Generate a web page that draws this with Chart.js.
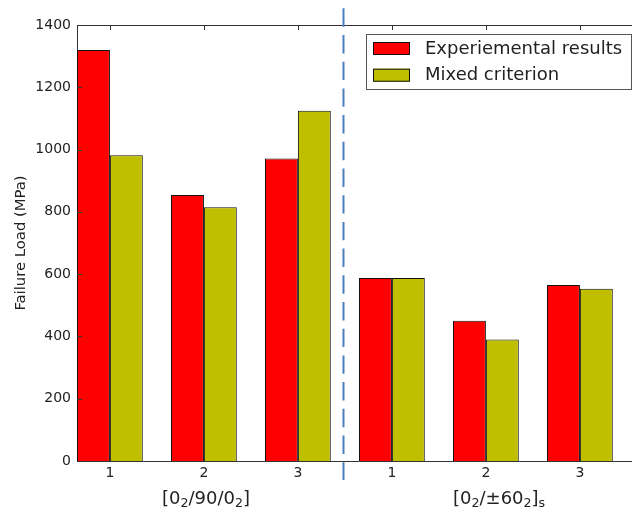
<!DOCTYPE html>
<html><head><meta charset="utf-8">
<script src="https://cdn.jsdelivr.net/npm/chart.js@4.4.1/dist/chart.umd.min.js"></script>
<style>
html,body{margin:0;padding:0;overflow:hidden;background:#fff;width:632px;height:510px}
#wrap{position:absolute;left:0;top:0;width:641px;height:510px}
</style>
</head><body><div id="wrap"><canvas id="c" width="641" height="510"></canvas></div>
<script>
// ---- data ----
const categories = ['1', '2', '3', '1', '2', '3'];
const experimental = [1320, 854, 971, 588, 450, 565];
const mixed = [982, 815, 1125, 588, 390, 553];
const seriesNames = ['Experiemental results', 'Mixed criterion'];
const groupLabels = ['[0_2/90/0_2]', '[0_2/\u00b160_2]_s'];
const yTickValues = [0, 200, 400, 600, 800, 1000, 1200, 1400];
const yTitle = 'Failure Load (MPa)';

const FONT = "'DejaVu Sans', sans-serif";
const colors = ['#ff0000', '#bfbf00'];
const SPINE = '#333';

function drawRich(ctx, str, x, y, size) {
  // '_c' marks a single subscript character
  const parts = [];
  for (let i = 0; i < str.length; i++) {
    if (str[i] === '_' && i + 1 < str.length) { parts.push({t: str[i+1], sub: true}); i++; }
    else {
      if (parts.length && !parts[parts.length-1].sub) parts[parts.length-1].t += str[i];
      else parts.push({t: str[i], sub: false});
    }
  }
  ctx.textBaseline = 'alphabetic';
  ctx.textAlign = 'left';
  let cx = x;
  for (const p of parts) {
    const s = p.sub ? size * 0.7 : size;
    ctx.font = s + 'px ' + FONT;
    ctx.fillText(p.t, cx, p.sub ? y + 3 : y);
    cx += ctx.measureText(p.t).width;
  }
}

const decor = {
  id: 'decor',
  afterDraw(chart) {
    const ctx = chart.ctx, a = chart.chartArea;
    const xs = chart.scales.x, ys = chart.scales.y;
    ctx.save();
    // top & right spines
    ctx.strokeStyle = SPINE; ctx.lineWidth = 1;
    ctx.beginPath();
    ctx.moveTo(a.left, a.top + 0.5); ctx.lineTo(a.right, a.top + 0.5);
    ctx.moveTo(a.right - 0.5, a.top); ctx.lineTo(a.right - 0.5, a.bottom);
    ctx.stroke();
    // inside tick marks
    ctx.beginPath();
    yTickValues.forEach(v => {
      const py = Math.round(ys.getPixelForValue(v)) + 0.5;
      ctx.moveTo(a.left, py); ctx.lineTo(a.left + 5, py);
      ctx.moveTo(a.right, py); ctx.lineTo(a.right - 5, py);
    });
    categories.forEach((c, i) => {
      const px = Math.round(xs.getPixelForValue(i)) + 0.5;
      ctx.moveTo(px, a.bottom); ctx.lineTo(px, a.bottom - 5);
      ctx.moveTo(px, a.top); ctx.lineTo(px, a.top + 5);
    });
    ctx.stroke();
    // dashed separator
    const sx = xs.getPixelForValue(2.485);
    ctx.strokeStyle = '#4a7ebf'; ctx.lineWidth = 2;
    ctx.setLineDash([18.4, 8.3]);
    ctx.beginPath(); ctx.moveTo(sx, 8.3); ctx.lineTo(sx, 480); ctx.stroke();
    ctx.setLineDash([]);
    // legend
    ctx.fillStyle = '#fff';
    ctx.fillRect(366, 34, 265, 55);
    ctx.strokeStyle = '#555'; ctx.lineWidth = 1;
    ctx.strokeRect(366.5, 34.5, 265, 55);
    seriesNames.forEach((n, i) => {
      const y0 = 42 + i * 26.7;
      ctx.fillStyle = colors[i];
      ctx.fillRect(373, y0, 37, 13);
      ctx.strokeStyle = '#111';
      ctx.strokeRect(373.5, y0 + 0.5, 36, 12);
      ctx.fillStyle = '#222';
      ctx.font = '18px ' + FONT;
      ctx.textBaseline = 'middle'; ctx.textAlign = 'left';
      ctx.fillText(n, 425, y0 + 7);
    });
    // y title
    ctx.save();
    ctx.translate(21, (a.top + a.bottom) / 2);
    ctx.rotate(-Math.PI / 2);
    ctx.fillStyle = '#222';
    ctx.font = '14.8px ' + FONT;
    ctx.textAlign = 'center'; ctx.textBaseline = 'middle';
    ctx.fillText(yTitle, 0, 0);
    ctx.restore();
    // group labels
    ctx.fillStyle = '#222';
    drawRich(ctx, groupLabels[0], 162, 504, 18);
    drawRich(ctx, groupLabels[1], 453, 504, 18);
    ctx.restore();
  }
};

new Chart(document.getElementById('c'), {
  type: 'bar',
  data: {
    datasets: [
      { label: seriesNames[0], data: experimental.map((v, i) => ({x: i, y: v})),
        backgroundColor: colors[0], borderColor: '#111', borderWidth: 1, inflateAmount: 0 },
      { label: seriesNames[1], data: mixed.map((v, i) => ({x: i, y: v})),
        backgroundColor: colors[1], borderColor: '#111', borderWidth: 1, inflateAmount: 0 }
    ]
  },
  options: {
    responsive: false,
    animation: false,
    layout: { padding: { top: 25, left: 0, right: 0, bottom: 0 } },
    datasets: { bar: { categoryPercentage: 0.7, barPercentage: 1.0, grouped: true } },
    plugins: { legend: { display: false }, tooltip: { enabled: false } },
    scales: {
      x: {
        type: 'linear', min: -0.35, max: 5.65, offset: false,
        grid: { display: false, drawTicks: false },
        border: { display: true, color: SPINE, width: 1 },
        afterBuildTicks: s => { s.ticks = categories.map((_, i) => ({ value: i })); },
        ticks: { callback: (v, i) => categories[i], font: { family: FONT, size: 14 }, color: '#222',
                 padding: 4, maxRotation: 0, autoSkip: false },
        afterFit: s => { s.height = 49; }
      },
      y: {
        min: 0, max: 1400,
        grid: { display: false, drawTicks: false },
        border: { display: true, color: SPINE, width: 1 },
        afterBuildTicks: s => { s.ticks = yTickValues.map(v => ({ value: v })); },
        ticks: { callback: v => String(v), font: { family: FONT, size: 14 }, color: '#222', padding: 6 },
        afterFit: s => { s.width = 77; }
      }
    }
  },
  plugins: [decor]
});
</script>
</body></html>
